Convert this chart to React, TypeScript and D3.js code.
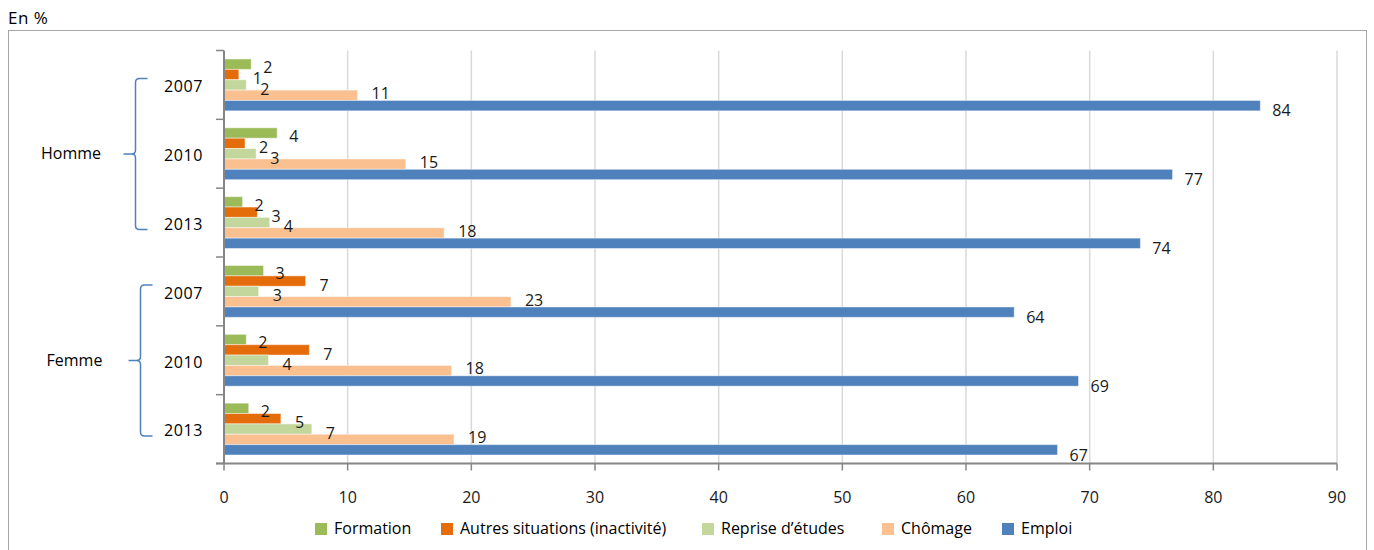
import React from "react";
import * as d3 from "d3";

const groups = ["Homme", "Femme"];
const years = ["2007", "2010", "2013"];
const categories = ["Homme 2007", "Homme 2010", "Homme 2013", "Femme 2007", "Femme 2010", "Femme 2013"];
const seriesNames = ["Formation", "Autres situations (inactivité)", "Reprise d’études", "Chômage", "Emploi"];
const formation = [2.2, 4.3, 1.5, 3.2, 1.8, 2.0];
const autres = [1.2, 1.7, 2.7, 6.6, 6.9, 4.6];
const reprise = [1.8, 2.6, 3.7, 2.8, 3.6, 7.1];
const chomage = [10.8, 14.7, 17.8, 23.2, 18.4, 18.6];
const emploi = [83.8, 76.7, 74.1, 63.9, 69.1, 67.4];
const xTicks = [0, 10, 20, 30, 40, 50, 60, 70, 80, 90];
const colors = ["#9BBB59", "#E46C0A", "#C3D69B", "#FAC090", "#4F81BD"];

const seriesValues = [formation, autres, reprise, chomage, emploi];

const FONT = "'Open Sans', 'DejaVu Sans', sans-serif";

export default function App() {
  const W = 1374, H = 550;
  const x = d3.scaleLinear().domain([0, 90]).range([224, 1337]);
  const y = d3.scaleBand<string>().domain(categories).range([50.5, 463.5]).paddingInner(0).paddingOuter(0);
  const bw = y.bandwidth();
  const sub = d3.scaleBand<string>().domain(seriesNames).range([8.5, bw - 8.5]).padding(0);
  const axisColor = "#868686";
  const legendX = [315, 441, 702, 882, 1002];
  const labelDy = [4.5, 5.5, 5.5, -0.5, 6.5];
  const labelDx = [12, 14, 14, 14, 12];

  const boundaries = d3.range(categories.length + 1).map((i) => 50.5 + i * bw);

  return (
    <svg width={W} height={H} style={{ position: "absolute", left: 0, top: 0, fontFamily: FONT }}>
      <rect x={0} y={0} width={W} height={H} fill="#fff" />
      <text x={8} y={24} fontSize={17} fill="#000" letterSpacing={0.5}>En %</text>
      <rect x={8.5} y={30.5} width={1358} height={540} fill="none" stroke="#A6A6A6" strokeWidth={1} />

      {/* gridlines */}
      {xTicks.filter((t) => t > 0).map((t) => (
        <line key={"g" + t} x1={x(t)} x2={x(t)} y1={50.5} y2={463.5} stroke="#D9D9D9" strokeWidth={1.5} />
      ))}

      {/* bars */}
      {seriesNames.map((s, si) =>
        categories.map((c, ci) => {
          const v = seriesValues[si][ci];
          const y0 = (y(c) as number) + (sub(s) as number);
          const h = sub.bandwidth();
          return (
            <rect key={s + c} x={x(0)} y={y0} width={x(v) - x(0)} height={h} fill={colors[si]} stroke="#fff" strokeOpacity={0.45} strokeWidth={1} />
          );
        })
      )}
      {seriesNames.map((s, si) =>
        categories.map((c, ci) => {
          const v = seriesValues[si][ci];
          const y0 = (y(c) as number) + (sub(s) as number);
          const h = sub.bandwidth();
          return (
            <text key={"l" + s + c} x={x(v) + labelDx[si]} y={y0 + h / 2 + labelDy[si]} fontSize={16} dominantBaseline="middle" fill="#1a1a1a">
              {Math.round(v)}
            </text>
          );
        })
      )}

      {/* y axis */}
      <line x1={x(0)} x2={x(0)} y1={50.5} y2={464} stroke={axisColor} strokeWidth={2} />
      {boundaries.map((b, i) => (
        <line key={"yt" + i} x1={216} x2={x(0)} y1={b} y2={b} stroke={axisColor} strokeWidth={1.5} />
      ))}
      {/* x axis */}
      <line x1={x(0) - 8} x2={x(90)} y1={463.5} y2={463.5} stroke={axisColor} strokeWidth={2} />
      {xTicks.map((t) => (
        <g key={"xt" + t}>
          <line x1={x(t)} x2={x(t)} y1={463.5} y2={470.5} stroke={axisColor} strokeWidth={1.5} />
          <text x={x(t)} y={499} fontSize={16} textAnchor="middle" dominantBaseline="middle" fill="#1a1a1a">{t}</text>
        </g>
      ))}

      {/* year labels */}
      {categories.map((c, i) => (
        <text key={"yl" + c} x={203} y={(y(c) as number) + bw / 2 + 3} fontSize={16} textAnchor="end" dominantBaseline="middle" fill="#000" letterSpacing={0.6}>
          {years[i % years.length]}
        </text>
      ))}

      {/* group labels and braces */}
      {groups.map((g, gi) => {
        const first = categories[gi * years.length];
        const last = categories[gi * years.length + years.length - 1];
        const top = (y(first) as number) + bw / 2 - 6.5;
        const bot = (y(last) as number) + bw / 2 + 7;
        const mid = (top + bot) / 2;
        const bx = gi === 0 ? 135.5 : 140.5;
        const r = 4;
        const path = `M${bx + 12},${top} L${bx + r},${top} Q${bx},${top} ${bx},${top + r} L${bx},${mid - r} Q${bx},${mid} ${bx - r},${mid} L${bx - 12},${mid} M${bx - r},${mid} Q${bx},${mid} ${bx},${mid + r} L${bx},${bot - r} Q${bx},${bot} ${bx + r},${bot} L${bx + 12},${bot}`;
        return (
          <g key={g}>
            <path d={path} fill="none" stroke="#4F81BD" strokeWidth={1.5} />
            <text x={gi === 0 ? 71 : 74.5} y={mid + 1} fontSize={16} textAnchor="middle" dominantBaseline="middle" fill="#000">{g}</text>
          </g>
        );
      })}

      {/* legend */}
      {seriesNames.map((s, si) => (
        <g key={"lg" + s}>
          <rect x={legendX[si]} y={523} width={12} height={12} fill={colors[si]} />
          <text x={legendX[si] + 19} y={530} fontSize={16} dominantBaseline="middle" fill="#000">{s}</text>
        </g>
      ))}
    </svg>
  );
}
